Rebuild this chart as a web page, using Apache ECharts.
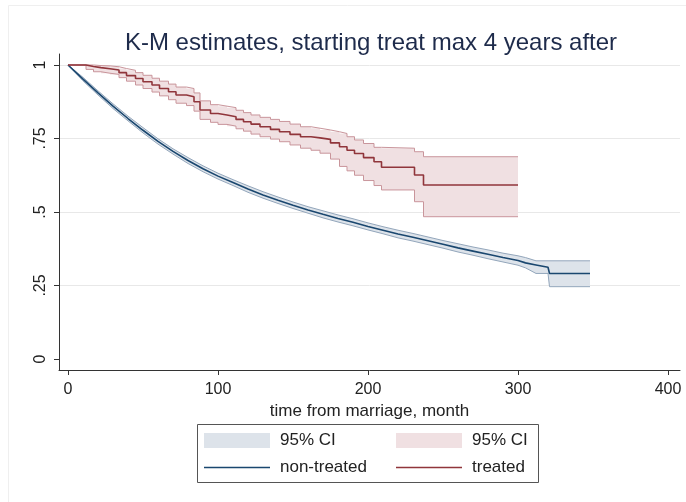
<!DOCTYPE html>
<html>
<head>
<meta charset="utf-8">
<script src="https://cdn.jsdelivr.net/npm/echarts@6/dist/echarts.min.js"></script>
<style>
html,body{margin:0;padding:0;background:#fff;}
#chart{width:686px;height:502px;}
</style>
</head>
<body>
<div id="chart"></div>
<script>
// Non-treated group (months, K-M estimate, 95% CI bounds)
const monthsNT = [0, 10, 20, 30, 40, 50, 60, 70, 80, 90, 100, 110, 120, 130, 140, 150, 160, 170, 180, 190, 200, 210, 220, 230, 240, 250, 260, 270, 280, 290, 300, 305, 312, 320, 321, 348];
const estNT = [1, .952, .905, .86, .818, .778, .74, .706, .675, .647, .622, .6, .578, .558, .54, .523, .507, .492, .478, .465, .451, .438, .425, .414, .402, .39, .378, .367, .356, .345, .335, .327, .32, .312, .291, .291];
const loNT = [1, .946, .898, .852, .81, .769, .731, .697, .665, .637, .612, .59, .567, .547, .529, .512, .496, .48, .466, .453, .439, .426, .412, .401, .389, .377, .364, .353, .341, .33, .319, .31, .291, .291, .246, .246];
const hiNT = [1, .958, .912, .868, .826, .787, .749, .715, .685, .657, .632, .61, .589, .569, .551, .534, .518, .504, .49, .477, .463, .45, .438, .427, .415, .403, .392, .381, .371, .36, .351, .345, .334, .334, .334, .334];

// Treated group (step function)
const monthsT = [0, 12, 17, 22, 28, 34, 39, 45, 50, 56, 61, 67, 72, 79, 84, 88, 95, 100, 106, 112, 117, 122, 128, 135, 141, 148, 155, 162, 168, 175, 181, 186, 191, 197, 204, 209, 231, 237, 300];
const estT = [1, .995, .991, .987, .983, .974, .964, .954, .943, .932, .92, .909, .898, .892, .875, .847, .835, .83, .824, .815, .807, .799, .79, .781, .773, .764, .756, .752, .747, .735, .722, .71, .699, .685, .671, .652, .626, .592, .592];
const loT = [1, .985, .977, .972, .968, .957, .945, .932, .92, .908, .895, .882, .87, .862, .843, .815, .805, .798, .792, .783, .775, .765, .756, .748, .739, .728, .717, .71, .70, .68, .655, .64, .625, .607, .59, .575, .535, .484, .484];
const hiT = [1, 1, .998, .997, .994, .988, .982, .974, .965, .955, .945, .935, .925, .92, .905, .878, .865, .86, .855, .846, .838, .83, .822, .815, .808, .799, .79, .785, .779, .773, .767, .756, .745, .733, .72, .717, .705, .688, .688];

const xTicks = [0, 100, 200, 300, 400];
const yTicks = [0, 0.25, 0.5, 0.75, 1];
const yTickLabels = ['0', '.25', '.5', '.75', '1'];

const titleText = 'K-M estimates, starting treat max 4 years after';
const xTitle = 'time from marriage, month';

const FONT = '"Liberation Sans", Arial, Helvetica, sans-serif';
const BLUE = '#1a476f', BLUE_FILL = '#dde3ea', BLUE_EDGE = '#93a6bb';
const RED = '#90353b', RED_FILL = '#f0e0e2', RED_EDGE = '#c9959b';

function pairs(xs, ys) { return xs.map((x, i) => [x, ys[i]]); }

function pathPoints(xs, ys, step) {
  const out = [];
  for (let i = 0; i < xs.length; i++) {
    out.push([xs[i], ys[i]]);
    if (step && i < xs.length - 1) out.push([xs[i + 1], ys[i]]);
  }
  return out;
}

function bandSeries(name, xs, lo, hi, fill, step) {
  return {
    name: name, type: 'custom', z: 1, clip: true,
    data: xs.map((x, i) => [x, lo[i], hi[i]]),
    encode: {x: 0, y: [1, 2]},
    itemStyle: {color: fill},
    renderItem: function (params, api) {
      if (params.dataIndex !== 0) return null;
      const up = pathPoints(xs, hi, step).map(p => api.coord(p));
      const dn = pathPoints(xs, lo, step).map(p => api.coord(p)).reverse();
      return {type: 'polygon', shape: {points: up.concat(dn)}, style: {fill: fill, stroke: null}};
    }
  };
}

function lineSeries(name, xs, ys, color, w, step, z) {
  const s = {name: name, type: 'line', symbol: 'none', data: pairs(xs, ys),
    lineStyle: {color: color, width: w}, itemStyle: {color: color}, z: z};
  if (step) s.step = 'end';
  return s;
}

const chart = echarts.init(document.getElementById('chart'), null, {renderer: 'canvas'});

const legendBase = {
  orient: 'horizontal', padding: 0, itemWidth: 66, itemHeight: 15,
  selectedMode: false,
  textStyle: {fontFamily: FONT, fontSize: 17, color: '#222', padding: [0, 0, 0, 5]},
  formatter: function (n) { return n.indexOf('ci_') === 0 ? '95% CI' : n; }
};

chart.setOption({
  animation: false,
  backgroundColor: '#fff',
  title: {
    text: titleText, left: 366, top: 26, textAlign: 'center',
    textStyle: {fontFamily: FONT, fontSize: 24, fontWeight: 'normal', color: '#1e2b4b'}
  },
  grid: {left: 59, right: 6, top: 54, bottom: 132},
  xAxis: {
    type: 'value', min: -6, max: 408,
    name: xTitle, nameLocation: 'middle', nameGap: 32,
    nameTextStyle: {fontFamily: FONT, fontSize: 17, color: '#222'},
    axisLine: {show: true, onZero: false, lineStyle: {color: '#333', width: 1}},
    axisTick: {show: true, length: 5, customValues: xTicks, lineStyle: {color: '#333'}},
    axisLabel: {customValues: xTicks, margin: 12, fontFamily: FONT, fontSize: 16, color: '#222'},
    splitLine: {show: false}
  },
  yAxis: {
    type: 'value', min: -0.0374, max: 1.0374,
    axisLine: {show: true, onZero: false, lineStyle: {color: '#333', width: 1}},
    axisTick: {show: true, length: 5, customValues: yTicks, lineStyle: {color: '#333'}},
    axisLabel: {
      customValues: yTicks, rotate: 90, margin: 10, fontFamily: FONT, fontSize: 16, color: '#222',
      formatter: function (v) { const i = yTicks.indexOf(v); return i >= 0 ? yTickLabels[i] : ''; }
    },
    splitLine: {show: true, lineStyle: {color: ['rgba(0,0,0,0)', '#e8e8e8', '#e8e8e8', '#e8e8e8', '#e8e8e8'], width: 1}}
  },
  legend: [
    Object.assign({}, legendBase, {left: 204, top: 432, data: [{name: 'ci_nt', icon: 'rect', itemStyle: {color: BLUE_FILL, borderWidth: 0}}]}),
    Object.assign({}, legendBase, {left: 396, top: 432, data: [{name: 'ci_t', icon: 'rect', itemStyle: {color: RED_FILL, borderWidth: 0}}]}),
    Object.assign({}, legendBase, {left: 204, top: 459, itemHeight: 1.6, data: [{name: 'non-treated', icon: 'rect', itemStyle: {color: BLUE, borderWidth: 0}}]}),
    Object.assign({}, legendBase, {left: 396, top: 459, itemHeight: 1.6, data: [{name: 'treated', icon: 'rect', itemStyle: {color: RED, borderWidth: 0}}]})
  ],
  graphic: [
    {type: 'rect', shape: {x: 8.5, y: 5.5, width: 700, height: 520}, style: {fill: 'none', stroke: '#efefef', lineWidth: 1}, silent: true, z: -10},
    {type: 'rect', shape: {x: 197.5, y: 424.5, width: 341, height: 58}, style: {fill: '#fff', stroke: '#555', lineWidth: 1}, silent: true, z: -1}
  ],
  series: [
    bandSeries('ci_nt', monthsNT, loNT, hiNT, BLUE_FILL, false),
    bandSeries('ci_t', monthsT, loT, hiT, RED_FILL, true),
    lineSeries('lo_nt', monthsNT, loNT, BLUE_EDGE, 1, false, 2),
    lineSeries('hi_nt', monthsNT, hiNT, BLUE_EDGE, 1, false, 2),
    lineSeries('lo_t', monthsT, loT, RED_EDGE, 1, true, 2),
    lineSeries('hi_t', monthsT, hiT, RED_EDGE, 1, true, 2),
    lineSeries('non-treated', monthsNT, estNT, BLUE, 1.6, false, 3),
    lineSeries('treated', monthsT, estT, RED, 1.6, true, 3)
  ]
});
</script>
</body>
</html>
